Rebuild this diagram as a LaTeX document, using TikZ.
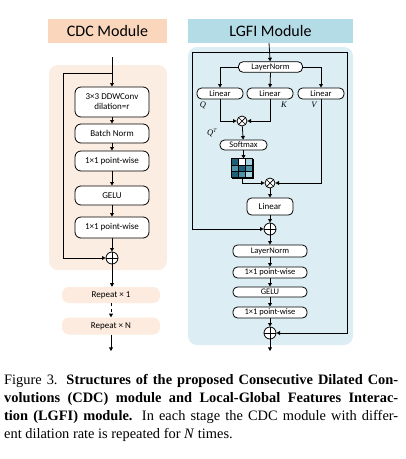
\documentclass[tikz,border=0pt]{standalone}
\usepackage{fontspec}
\setmainfont{Carlito}
\newfontfamily\capfont{Liberation Serif}
\usetikzlibrary{arrows.meta}
\definecolor{cdcpanel}{HTML}{FCEDE2}
\definecolor{cdctitle}{HTML}{F9D6BC}
\definecolor{lgfipanel}{HTML}{DCEEF4}
\definecolor{lgfititle}{HTML}{B4DCE6}
\definecolor{gdark}{HTML}{1F5E78}
\definecolor{gmid}{HTML}{4E93AA}
\definecolor{glight}{HTML}{A6D0DD}
\tikzset{
  ln/.style={line width=0.8pt},
  arr/.style={ln,-{Triangle[length=3.6pt,width=3.8pt]}},
  cbox/.style={draw,ln,fill=white,rounded corners=6pt,minimum width=74pt,inner sep=0pt,align=center,font=\fontsize{9}{10}\selectfont},
  lbox/.style={draw,ln,fill=white,rounded corners=4.5pt,inner sep=0pt,align=center,font=\fontsize{8.5}{9}\selectfont},
  rep/.style={fill=cdcpanel!90!cdctitle,rounded corners=7pt,minimum width=98pt,inner sep=0pt,font=\fontsize{9}{10}\selectfont},
  opl/.style={circle,draw,ln,fill=white,minimum size=12pt,inner sep=0pt,
    path picture={\draw[line width=0.7pt] (path picture bounding box.north) -- (path picture bounding box.south) (path picture bounding box.west) -- (path picture bounding box.east);}},
  otm/.style={circle,draw,ln,fill=white,minimum size=10pt,inner sep=0pt,
    path picture={\draw[line width=0.7pt] (path picture bounding box.north west) -- (path picture bounding box.south east) (path picture bounding box.south west) -- (path picture bounding box.north east);}},
  ttl/.style={inner sep=0pt,font=\fontsize{16}{18}\selectfont},
  lab/.style={inner sep=0pt,font=\capfont\itshape\fontsize{8.5}{9}\selectfont},
  capline/.style={anchor=base west,inner sep=0pt,font=\capfont\fontsize{14.4}{18}\selectfont},
}
\newcommand{\capjust}[1]{\makebox[394pt][s]{#1}}
\begin{document}
\begin{tikzpicture}[x=1pt,y=-1pt]
\useasboundingbox (0,0) rectangle (406,459);
% ===== CDC =====
\fill[cdctitle] (48,19) rectangle (167,43);
\node[ttl] (cdct) at (107.5,31) {CDC Module};
\fill[cdcpanel,rounded corners=9pt] (49,65) rectangle (167,270);
\coordinate (cin) at (112,57);
\coordinate (cbr) at (112,73);
\coordinate (cl) at (63,73);
\node[cbox,minimum height=30pt] (b1) at (112,102) {3×3 DDWConv\\dilation=r};
\node[cbox,minimum height=19pt] (b2) at (112,133.5) {Batch Norm};
\node[cbox,minimum height=20pt] (b3) at (112,161) {1×1 point-wise};
\node[cbox,minimum height=19pt] (b4) at (112,195.5) {GELU};
\node[cbox,minimum height=21pt] (b5) at (112,227.5) {1×1 point-wise};
\node[opl] (p1) at (112,258) {};
\node[rep,minimum height=16pt] (r1) at (111,295) {Repeat × 1};
\node[rep,minimum height=17pt] (rN) at (111,326) {Repeat × N};
\coordinate (cout) at (111,351);
\draw[arr] (cin) -- (b1);
\draw[arr] (cbr) -- (cl) |- (p1.west);
\draw[arr] (b1) -- (b2);
\draw[arr] (b2) -- (b3);
\draw[arr] (b3) -- (b4);
\draw[arr] (b4) -- (b5);
\draw[arr] (b5) -- (p1);
\draw[arr] (p1.south) -- (p1.south |- r1.north);
\draw[arr,dashed] (r1) -- (rN);
\draw[arr] (rN) -- (cout);
% ===== LGFI =====
\fill[lgfititle] (188,19) rectangle (353,43);
\node[ttl] (lgt) at (270.5,31) {LGFI Module};
\fill[lgfipanel,rounded corners=9pt] (188,47) rectangle (353,345);
\coordinate (lin) at (269,43);
\coordinate (skl) at (192,52);
\coordinate (skr) at (347,52);
\node[lbox,minimum width=64pt,minimum height=10.5pt] (ln1) at (270.5,67) {LayerNorm};
\node[lbox,minimum width=46pt,minimum height=11pt] (lq) at (220,93.5) {Linear};
\node[lbox,minimum width=46pt,minimum height=11pt] (lk) at (270,93.5) {Linear};
\node[lbox,minimum width=46pt,minimum height=11pt] (lv) at (321,93.5) {Linear};
\node[lab] (tq) at (203,105) {Q};
\node[lab] (tk) at (284,105) {K};
\node[lab] (tv) at (314,105) {V};
\node[otm] (m1) at (242,121) {};
\node[lab] (tqt) at (212,133) {Q\textsuperscript{\fontsize{5.5}{6}\selectfont T}};
\node[lbox,minimum width=47pt,minimum height=10pt] (sm) at (243.5,145) {Softmax};
\node[draw,ln,minimum width=21pt,minimum height=19pt,inner sep=0pt] (grid) at (242.5,168.5) {};
\node[otm] (m2) at (270,183) {};
\node[lbox,minimum width=46pt,minimum height=17pt,font=\fontsize{9}{10}\selectfont] (l2) at (270,206.5) {Linear};
\node[opl] (p2) at (270,229) {};
\node[lbox,minimum width=74pt,minimum height=12pt] (ln2) at (270,251) {LayerNorm};
\node[lbox,minimum width=74pt,minimum height=11pt] (pw1) at (270,272.5) {1×1 point-wise};
\node[lbox,minimum width=74pt,minimum height=10pt] (ge) at (270,292) {GELU};
\node[lbox,minimum width=74pt,minimum height=11pt] (pw2) at (270,312.5) {1×1 point-wise};
\node[opl] (p3) at (270,333) {};
\coordinate (lout) at (270,351);
% grid cells
\begin{scope}[shift={(grid.north west)}]
  \fill[gdark]  (0,0) rectangle (7,6.33);
  \fill[white]  (7,0) rectangle (14,6.33);
  \fill[glight] (14,0) rectangle (21,6.33);
  \fill[gmid]   (0,6.33) rectangle (7,12.67);
  \fill[gdark]  (7,6.33) rectangle (14,12.67);
  \fill[gmid]   (14,6.33) rectangle (21,12.67);
  \fill[gdark]  (0,12.67) rectangle (7,19);
  \fill[gmid]   (7,12.67) rectangle (14,19);
  \fill[glight] (14,12.67) rectangle (21,19);
  \draw[line width=0.6pt] (7,0) -- (7,19) (14,0) -- (14,19) (0,6.33) -- (21,6.33) (0,12.67) -- (21,12.67);
  \draw[ln] (0,0) rectangle (21,19);
\end{scope}
\draw[arr] (lin) -- (ln1);
\draw[ln] (skl) -- (skr);
\draw[arr] (skl) |- (p2.west);
\draw[arr] (skr) |- (p3.east);
\draw[arr] (ln1.west) -| (lq.north);
\draw[arr] (ln1.south) -- (lk.north);
\draw[arr] (ln1.east) -| (lv.north);
\draw[arr] (lq.south) |- (m1.west);
\draw[arr] (lk.south) |- (m1.east);
\draw[arr] (m1) -- (sm);
\draw[arr] (sm.south) -- (sm.south |- grid.north);
\draw[arr] (grid.south) |- (m2.west);
\draw[arr] (lv.south) |- (m2.east);
\draw[arr] (m2) -- (l2);
\draw[arr] (l2) -- (p2);
\draw[arr] (p2) -- (ln2);
\draw[arr] (ln2) -- (pw1);
\draw[arr] (pw1) -- (ge);
\draw[arr] (ge) -- (pw2);
\draw[arr] (pw2) -- (p3);
\draw[arr] (p3) -- (lout);
% ===== caption =====
\node[capline] (c1) at (4,384) {\capjust{Figure 3. \textbf{Structures of the proposed Consecutive Dilated Con-}}};
\node[capline] (c2) at (4,402) {\capjust{\textbf{volutions (CDC) module and Local-Global Features Interac-}}};
\node[capline] (c3) at (4,420) {\capjust{\textbf{tion (LGFI) module.} In each stage the CDC module with differ-}};
\node[capline] (c4) at (4,438) {ent dilation rate is repeated for \textit{N} times.};
\end{tikzpicture}
\end{document}
